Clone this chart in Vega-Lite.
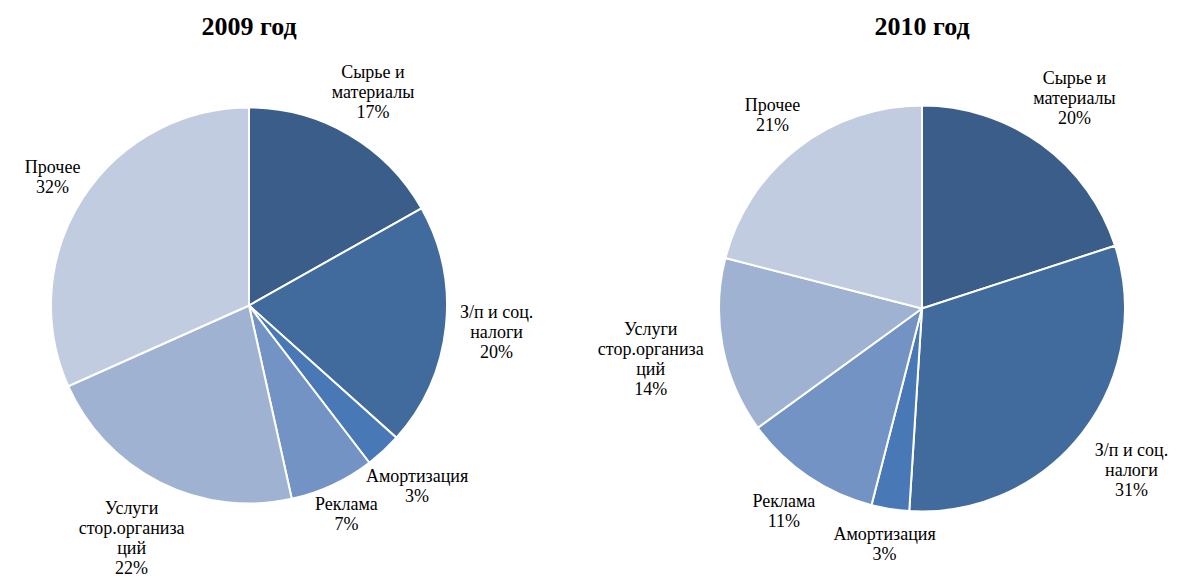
{
  "$schema": "https://vega.github.io/schema/vega-lite/v6.json",
  "padding": {"left": 0, "top": 14, "right": 0, "bottom": 0},
  "background": "white",
  "bounds": "flush",
  "spacing": 164,
  "config": {"view": {"stroke": null}},
  "datasets": {
    "y2009": [
      {"category": "Сырье и материалы", "label": "Сырье и\nматериалы", "value": 17, "order": 1},
      {"category": "З/п и соц. налоги", "label": "З/п и соц.\nналоги", "value": 20, "order": 2},
      {"category": "Амортизация", "label": "Амортизация", "value": 3, "order": 3},
      {"category": "Реклама", "label": "Реклама", "value": 7, "order": 4},
      {"category": "Услуги стор.организаций", "label": "Услуги\nстор.организа\nций", "value": 22, "order": 5},
      {"category": "Прочее", "label": "Прочее", "value": 32, "order": 6}
    ],
    "y2010": [
      {"category": "Сырье и материалы", "label": "Сырье и\nматериалы", "value": 20, "order": 1},
      {"category": "З/п и соц. налоги", "label": "З/п и соц.\nналоги", "value": 31, "order": 2},
      {"category": "Амортизация", "label": "Амортизация", "value": 3, "order": 3},
      {"category": "Реклама", "label": "Реклама", "value": 11, "order": 4},
      {"category": "Услуги стор.организаций", "label": "Услуги\nстор.организа\nций", "value": 14, "order": 5},
      {"category": "Прочее", "label": "Прочее", "value": 21, "order": 6}
    ]
  },
  "hconcat": [
    {
      "width": 498,
      "height": 531,
      "title": {"text": "2009 год", "font": "Liberation Serif", "fontSize": 26, "fontWeight": "bold", "color": "black", "offset": 0},
      "data": {"name": "y2009"},
      "transform": [
        {"stack": "value", "groupby": [], "sort": [{"field": "order", "order": "ascending"}], "as": ["s0", "s1"]},
        {"joinaggregate": [{"op": "sum", "field": "value", "as": "total"}]},
        {"calculate": "(datum.s0 + datum.s1) / 2", "as": "mid"},
        {"calculate": "datum.label + '\\n' + datum.value + '%'", "as": "fulllabel"},
        {"calculate": "length(split(datum.label, '\\n'))", "as": "nlines"},
        {"calculate": "max(length(split(datum.label, '\\n')[0]), length(split(datum.label, '\\n')[1] || ''), length(split(datum.label, '\\n')[2] || ''))", "as": "maxlen"},
        {"calculate": "198 + 6 + abs(cos(2 * PI * datum.mid / datum.total)) * (datum.nlines * 10 + 6) + abs(sin(2 * PI * datum.mid / datum.total)) * datum.maxlen * 4.25", "as": "lr"}
      ],
      "layer": [
        {
          "mark": {"type": "arc", "outerRadius": 198, "stroke": "white", "strokeWidth": 2},
          "encoding": {
            "theta": {"field": "value", "type": "quantitative", "stack": true, "scale": {"domain": [0, 101]}},
            "order": {"field": "order", "type": "quantitative"},
            "color": {
              "field": "category", "type": "nominal", "legend": null,
              "scale": {
                "domain": ["Сырье и материалы", "З/п и соц. налоги", "Амортизация", "Реклама", "Услуги стор.организаций", "Прочее"],
                "range": ["#3a5d89", "#416b9c", "#4878b5", "#7393c4", "#a0b2d2", "#c1cce1"]
              }
            }
          }
        },
        {
          "transform": [{"filter": "datum.nlines == 1"}],
          "mark": {"type": "text", "dy": -10, "font": "Liberation Serif", "fontSize": 18, "letterSpacing": 0.4, "lineBreak": "\n", "lineHeight": 20, "align": "center", "baseline": "middle", "color": "black"},
          "encoding": {
            "theta": {"field": "mid", "type": "quantitative", "stack": null, "scale": {"domain": [0, 101]}},
            "radius": {"field": "lr", "type": "quantitative", "scale": null},
            "text": {"field": "fulllabel"}
          }
        },
        {
          "transform": [{"filter": "datum.nlines == 2"}],
          "mark": {"type": "text", "dy": -20, "font": "Liberation Serif", "fontSize": 18, "letterSpacing": 0.4, "lineBreak": "\n", "lineHeight": 20, "align": "center", "baseline": "middle", "color": "black"},
          "encoding": {
            "theta": {"field": "mid", "type": "quantitative", "stack": null, "scale": {"domain": [0, 101]}},
            "radius": {"field": "lr", "type": "quantitative", "scale": null},
            "text": {"field": "fulllabel"}
          }
        },
        {
          "transform": [{"filter": "datum.nlines == 3"}],
          "mark": {"type": "text", "dy": -30, "font": "Liberation Serif", "fontSize": 18, "letterSpacing": 0.4, "lineBreak": "\n", "lineHeight": 20, "align": "center", "baseline": "middle", "color": "black"},
          "encoding": {
            "theta": {"field": "mid", "type": "quantitative", "stack": null, "scale": {"domain": [0, 101]}},
            "radius": {"field": "lr", "type": "quantitative", "scale": null},
            "text": {"field": "fulllabel"}
          }
        }
      ]
    },
    {
      "width": 520,
      "height": 537,
      "title": {"text": "2010 год", "font": "Liberation Serif", "fontSize": 26, "fontWeight": "bold", "color": "black", "offset": 0},
      "data": {"name": "y2010"},
      "transform": [
        {"stack": "value", "groupby": [], "sort": [{"field": "order", "order": "ascending"}], "as": ["s0", "s1"]},
        {"joinaggregate": [{"op": "sum", "field": "value", "as": "total"}]},
        {"calculate": "(datum.s0 + datum.s1) / 2", "as": "mid"},
        {"calculate": "datum.label + '\\n' + datum.value + '%'", "as": "fulllabel"},
        {"calculate": "length(split(datum.label, '\\n'))", "as": "nlines"},
        {"calculate": "max(length(split(datum.label, '\\n')[0]), length(split(datum.label, '\\n')[1] || ''), length(split(datum.label, '\\n')[2] || ''))", "as": "maxlen"},
        {"calculate": "203 + 12 + abs(cos(2 * PI * datum.mid / datum.total)) * (datum.nlines * 10 + 7) + abs(sin(2 * PI * datum.mid / datum.total)) * datum.maxlen * 4.25", "as": "lr"}
      ],
      "layer": [
        {
          "mark": {"type": "arc", "outerRadius": 203, "stroke": "white", "strokeWidth": 2},
          "encoding": {
            "theta": {"field": "value", "type": "quantitative", "stack": true, "scale": {"domain": [0, 100]}},
            "order": {"field": "order", "type": "quantitative"},
            "color": {
              "field": "category", "type": "nominal", "legend": null,
              "scale": {
                "domain": ["Сырье и материалы", "З/п и соц. налоги", "Амортизация", "Реклама", "Услуги стор.организаций", "Прочее"],
                "range": ["#3a5d89", "#416b9c", "#4878b5", "#7393c4", "#a0b2d2", "#c1cce1"]
              }
            }
          }
        },
        {
          "transform": [{"filter": "datum.nlines == 1"}],
          "mark": {"type": "text", "dy": -10, "font": "Liberation Serif", "fontSize": 18, "letterSpacing": 0.4, "lineBreak": "\n", "lineHeight": 20, "align": "center", "baseline": "middle", "color": "black"},
          "encoding": {
            "theta": {"field": "mid", "type": "quantitative", "stack": null, "scale": {"domain": [0, 100]}},
            "radius": {"field": "lr", "type": "quantitative", "scale": null},
            "text": {"field": "fulllabel"}
          }
        },
        {
          "transform": [{"filter": "datum.nlines == 2"}],
          "mark": {"type": "text", "dy": -20, "font": "Liberation Serif", "fontSize": 18, "letterSpacing": 0.4, "lineBreak": "\n", "lineHeight": 20, "align": "center", "baseline": "middle", "color": "black"},
          "encoding": {
            "theta": {"field": "mid", "type": "quantitative", "stack": null, "scale": {"domain": [0, 100]}},
            "radius": {"field": "lr", "type": "quantitative", "scale": null},
            "text": {"field": "fulllabel"}
          }
        },
        {
          "transform": [{"filter": "datum.nlines == 3"}],
          "mark": {"type": "text", "dy": -30, "font": "Liberation Serif", "fontSize": 18, "letterSpacing": 0.4, "lineBreak": "\n", "lineHeight": 20, "align": "center", "baseline": "middle", "color": "black"},
          "encoding": {
            "theta": {"field": "mid", "type": "quantitative", "stack": null, "scale": {"domain": [0, 100]}},
            "radius": {"field": "lr", "type": "quantitative", "scale": null},
            "text": {"field": "fulllabel"}
          }
        }
      ]
    }
  ]
}
